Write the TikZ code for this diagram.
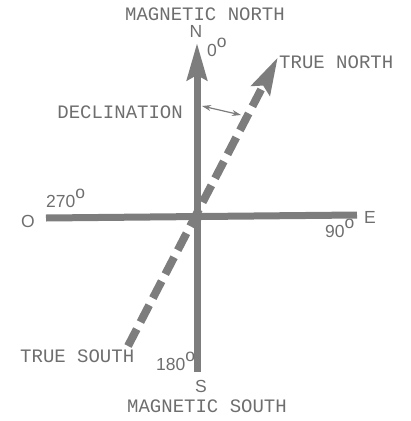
\documentclass[tikz,border=0pt]{standalone}
\usepackage{fontspec}
\usetikzlibrary{arrows.meta}
\newfontfamily\labelmono{Liberation Mono}
\newfontfamily\labelsans{Liberation Sans}
\definecolor{compassgray}{RGB}{125,125,125}
\definecolor{textgray}{RGB}{110,110,110}
\newcommand{\degsign}{\raisebox{0.5em}{o}}

\tikzset{
    mono/.style={inner sep=0pt,text=textgray,font=\labelmono\fontsize{19}{19}\selectfont},
    sans/.style={inner sep=0pt,text=textgray,font=\labelsans\fontsize{17.5}{17.5}\selectfont},
    bar/.style={draw=compassgray,line width=7pt},
    bighead/.style={-{Stealth[length=37pt,width=20pt,inset=5pt]}}
}

\begin{document}
\begin{tikzpicture}[x=1pt,y=-1pt,line cap=butt,line join=miter]
        \useasboundingbox (0,0) rectangle (411,421);

        \coordinate (ms) at (197,372);
        \coordinate (mn) at (197,43);
        \coordinate (w) at (46,218);
        \coordinate (e) at (357,215);
        \coordinate (ts) at (128,346);
        \coordinate (tn) at (278,57);

        % magnetic axis and east-west line
        \draw[bar,bighead,compassgray] (ms) -- (mn);
        \draw[bar] (w) -- (e);

        % true north, dashed
        \draw[bar,bighead,compassgray,line width=8pt,dash pattern=on 19pt off 8pt] (ts) -- (tn);

        % declination angle
        \coordinate (d1) at (202,106);
        \coordinate (d2) at (241,115);
        \draw[compassgray,line width=1.2pt,{Stealth[length=9pt,width=6pt]}-{Stealth[length=9pt,width=6pt]}] (d1) -- (d2);

        \node[mono,anchor=base] (magn) at (205,20) {MAGNETIC NORTH};
        \node[sans,anchor=base] (nn) at (196,37) {N};
        \node[sans,anchor=base west] (deg0) at (207,56) {0\degsign};
        \node[mono,anchor=base west] (truen) at (279,68) {TRUE NORTH};
        \node[mono,anchor=base east] (decl) at (183,118) {DECLINATION};

        \node[sans,anchor=base west] (deg270) at (46,207) {270\degsign};
        \node[sans,anchor=base] (oo) at (28,227) {O};
        \node[sans,anchor=base] (ee) at (370,223) {E};
        \node[sans,anchor=base west] (deg90) at (325,237) {90\degsign};

        \node[mono,anchor=base west] (trues) at (20,362) {TRUE SOUTH};
        \node[sans,anchor=base west] (deg180) at (156,370) {180\degsign};
        \node[sans,anchor=base] (ss) at (201,392) {S};
        \node[mono,anchor=base] (mags) at (207,412) {MAGNETIC SOUTH};
\end{tikzpicture}
\end{document}
